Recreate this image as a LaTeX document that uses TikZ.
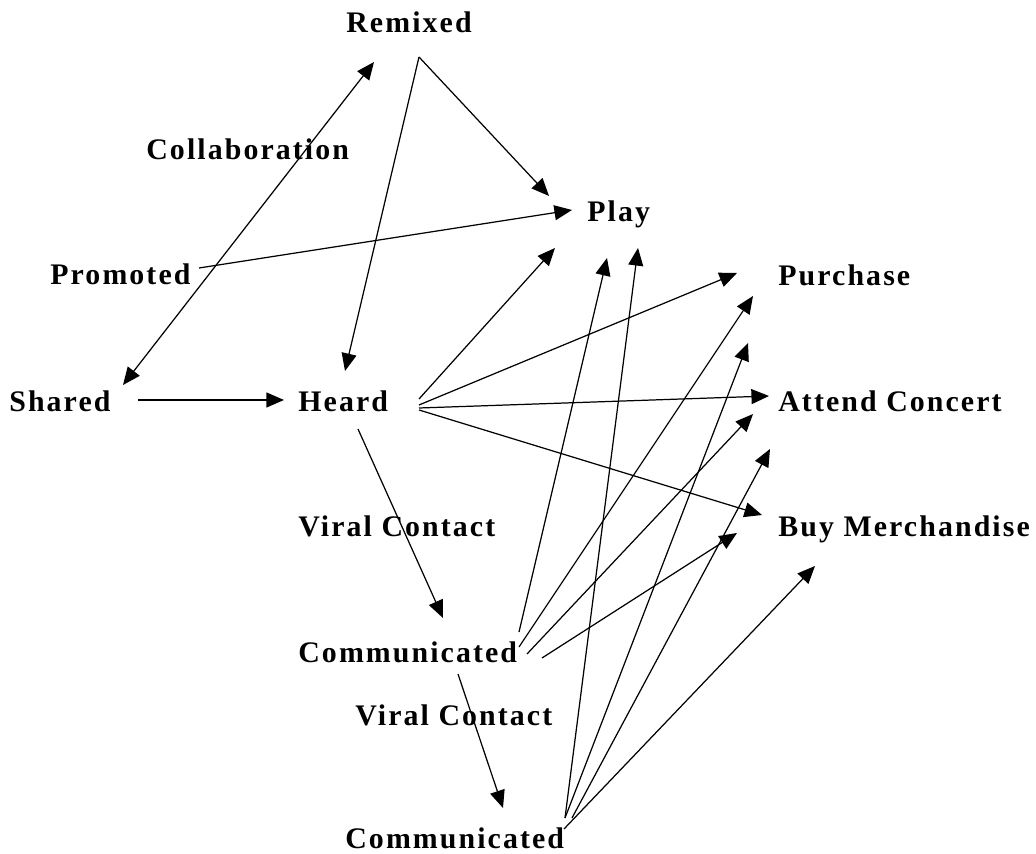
\documentclass[tikz,border=0pt]{standalone}
\usepackage{fontspec}
\setmainfont{Liberation Serif}[LetterSpace=7]
\usetikzlibrary{arrows.meta}

\begin{document}
\begin{tikzpicture}[x=0.02cm,y=-0.02cm,
	lbl/.style={anchor=base west,inner sep=0pt,font=\fontsize{17}{20}\selectfont\bfseries},
	arr/.style={-{Triangle[length=10pt,width=8.5pt]},line width=0.7pt},
	twoway/.style={{Triangle[length=10pt,width=8.5pt]}-{Triangle[length=10pt,width=8.5pt]},line width=0.7pt}]
	\useasboundingbox (0,0) rectangle (1036,854);

	% labels
	\node[lbl] (remixed) at (346,33) {Remixed};
	\node[lbl] (collab) at (146,160) {Collaboration};
	\node[lbl] (play) at (587,222) {Play};
	\node[lbl] (promoted) at (50,285) {Promoted};
	\node[lbl] (purchase) at (778,286) {Purchase};
	\node[lbl] (shared) at (9,412) {Shared};
	\node[lbl] (heard) at (298,412) {Heard};
	\node[lbl] (concert) at (778,412) {Attend Concert};
	\node[lbl] (viralA) at (298,537) {Viral Contact};
	\node[lbl] (merch) at (778,537) {Buy Merchandise};
	\node[lbl] (commA) at (298,663) {Communicated};
	\node[lbl] (viralB) at (355,726) {Viral Contact};
	\node[lbl] (commB) at (345,849) {Communicated};

	% free ends of the arrows
	\coordinate (shared-o) at (138,400);
	\coordinate (heard-i) at (284,400);
	\coordinate (shared-c) at (123,385);
	\coordinate (remixed-c) at (374,62);
	\coordinate (remixed-o) at (419,57);
	\coordinate (play-r) at (549,196);
	\coordinate (heard-r) at (345,371);
	\coordinate (promoted-o) at (199,268);
	\coordinate (play-p) at (572,210);
	\coordinate (heard-o1) at (419,399);
	\coordinate (heard-o2) at (419,405);
	\coordinate (heard-o3) at (419,408);
	\coordinate (heard-o4) at (419,410);
	\coordinate (heard-o5) at (358,429);
	\coordinate (play-h) at (555,248);
	\coordinate (purchase-h) at (737,273);
	\coordinate (concert-h) at (769,396);
	\coordinate (merch-h) at (762,515);
	\coordinate (commA-i) at (443,618);
	\coordinate (commA-o1) at (519,632);
	\coordinate (commA-o2) at (519,647);
	\coordinate (commA-o3) at (527,654);
	\coordinate (commA-o4) at (542,658);
	\coordinate (commA-o5) at (458,674);
	\coordinate (play-a) at (607,258);
	\coordinate (purchase-a) at (753,296);
	\coordinate (concert-a) at (753,414);
	\coordinate (merch-a) at (737,533);
	\coordinate (commB-i) at (503,808);
	\coordinate (commB-o1) at (565,818);
	\coordinate (commB-o2) at (572,818);
	\coordinate (commB-o3) at (564,829);
	\coordinate (play-b) at (638,248);
	\coordinate (purchase-b) at (748,343);
	\coordinate (concert-b) at (770,449);
	\coordinate (merch-b) at (815,566);

	% arrows
	\draw[arr] (shared-o) -- (heard-i);
	\draw[twoway] (shared-c) -- (remixed-c);
	\draw[arr] (remixed-o) -- (play-r);
	\draw[arr] (remixed-o) -- (heard-r);
	\draw[arr] (promoted-o) -- (play-p);
	\draw[arr] (heard-o1) -- (play-h);
	\draw[arr] (heard-o2) -- (purchase-h);
	\draw[arr] (heard-o3) -- (concert-h);
	\draw[arr] (heard-o4) -- (merch-h);
	\draw[arr] (heard-o5) -- (commA-i);
	\draw[arr] (commA-o1) -- (play-a);
	\draw[arr] (commA-o2) -- (purchase-a);
	\draw[arr] (commA-o3) -- (concert-a);
	\draw[arr] (commA-o4) -- (merch-a);
	\draw[arr] (commA-o5) -- (commB-i);
	\draw[arr] (commB-o1) -- (play-b);
	\draw[arr] (commB-o1) -- (purchase-b);
	\draw[arr] (commB-o2) -- (concert-b);
	\draw[arr] (commB-o3) -- (merch-b);
\end{tikzpicture}
\end{document}
